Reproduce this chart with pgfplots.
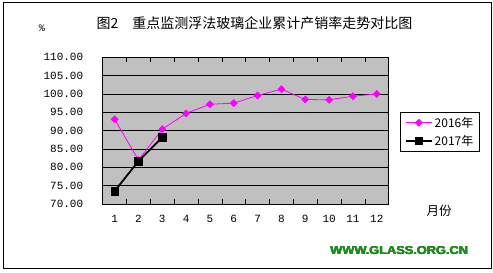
\documentclass[border=0pt]{standalone}
\usepackage{fontspec}
\setmainfont{Liberation Mono}
\newfontfamily\cjk{Noto Sans CJK SC}
\newfontfamily\wsans{Liberation Sans}
\usepackage{pgfplots}
\pgfplotsset{compat=1.18}
\definecolor{plotbg}{HTML}{C0C0C0}
\definecolor{mag}{HTML}{FF00FF}
\definecolor{wgreen}{HTML}{1F8A1F}
\begin{document}
\begin{tikzpicture}
\path[use as bounding box] (0pt,0pt) rectangle (493pt,273pt);
\draw[black, line width=1pt] (3pt,4pt) rectangle (491pt,270pt);
\node[font=\cjk\fontsize{14}{14}\selectfont, anchor=center] at (254.5pt,250pt) {图2\hspace{1em}重点监测浮法玻璃企业累计产销率走势对比图};
\node[font=\fontsize{10}{10}\selectfont] at (42pt,245pt) {\%};
\node[font=\cjk\fontsize{12.5}{12.5}\selectfont] at (439pt,62pt) {月份};
\foreach \dx/\dy in {0/0,0.45/0,0/0.3,0.45/0.3}{
\node[font=\wsans\bfseries\fontsize{11.5}{11.5}\selectfont, text=wgreen] at (399pt+\dx pt,22pt+\dy pt) {\scalebox{1.11}[1]{WWW.GLASS.ORG.CN}};
}
\begin{axis}[
  at={(102.7pt,69pt)}, anchor=south west,
  width=286pt, height=146.7pt, scale only axis,
  xmin=0.5, xmax=12.5, ymin=70, ymax=110,
  axis background/.style={fill=plotbg},
  axis line style={black, line width=0.8pt},
  xtick={1,...,12},
  minor xtick={1.5,2.5,...,11.5},
  major x tick style={draw=none},
  minor tick length=5pt,
  tick align=inside,
  ytick={70,75,...,110},
  ymajorgrids,
  grid style={black, line width=0.8pt},
  major tick length=0pt,
  tick style={black, line width=0.6pt},
  y tick label style={/pgf/number format/.cd, fixed, fixed zerofill, precision=2, /tikz/.cd, xshift=-16pt},
  /pgf/number format/assume math mode=true,
  tick label style={font=\fontsize{11}{11}\selectfont},
  xticklabel style={yshift=-8pt},
  legend style={at={(1.0395,0.627)}, anchor=north west, draw=black, line width=0.8pt, fill=white,
    font=\cjk\fontsize{12}{12}\selectfont, inner xsep=4.5pt, inner ysep=2.5pt, row sep=2.5pt},
  legend cell align=left,
  legend image code/.code={\draw[mark repeat=2,mark phase=2] plot coordinates {(0pt,0pt) (13pt,0pt) (26pt,0pt)};},
]
\addplot[mag, line width=0.8pt, mark=square*, mark size=2.4pt, mark options={rotate=45, fill=mag, draw=mag}]
  coordinates {(1,93.1) (2,82.0) (3,90.4) (4,94.7) (5,97.2) (6,97.5) (7,99.6) (8,101.3) (9,98.5) (10,98.4) (11,99.4) (12,100.0)};
\addlegendentry{2016年}
\addplot[black, line width=1.8pt, mark=square*, mark size=3.8pt, mark options={fill=black, line width=0.5pt}]
  coordinates {(1,73.5) (2,81.7) (3,88.2)};
\addlegendentry{2017年}
\end{axis}
\end{tikzpicture}
\end{document}
